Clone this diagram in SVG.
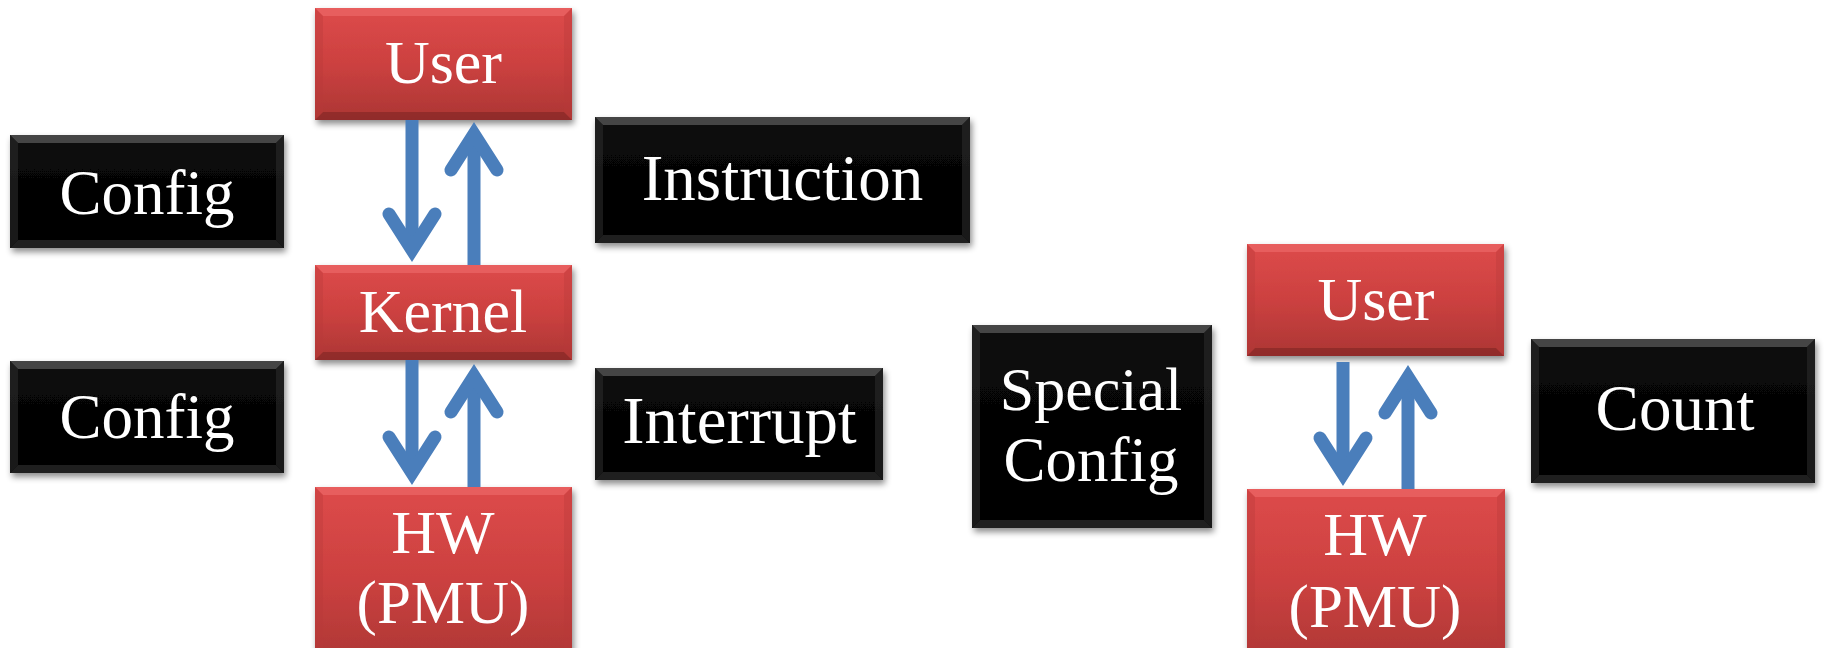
<svg xmlns="http://www.w3.org/2000/svg" width="1826" height="648" viewBox="0 0 1826 648">
<defs>
<linearGradient id="redG" x1="0" y1="0" x2="0" y2="1">
<stop offset="0" stop-color="#DD4A4A"/>
<stop offset="0.5" stop-color="#CC4140"/>
<stop offset="1" stop-color="#AC3634"/>
</linearGradient>
<linearGradient id="blkG" x1="0" y1="0" x2="0" y2="1">
<stop offset="0" stop-color="#0A0A0A"/>
<stop offset="1" stop-color="#000000"/>
</linearGradient>
<filter id="sh" x="-10%" y="-10%" width="125%" height="130%">
<feDropShadow dx="2" dy="4" stdDeviation="3" flood-color="#000" flood-opacity="0.45"/>
</filter>
</defs>
<style>
.red{fill:url(#redG);filter:url(#sh)}
.blk{fill:url(#blkG);filter:url(#sh)}
.red-t{fill:#F07070;opacity:0.55}
.red-b{fill:#7A2220;opacity:0.55}
.red-s{fill:#B83A38;opacity:0.35}
.blk-t{fill:#6A6A6A;opacity:0.6}
.blk-b{fill:#333;opacity:0.6}
.blk-s{fill:#2A2A2A;opacity:0.6}
text{font-family:"Liberation Serif","Times New Roman",serif;fill:#fff;text-anchor:middle}
.arr{stroke:#4A7EBB;stroke-width:13;fill:none;stroke-linecap:butt}
.head{stroke:#4A7EBB;stroke-width:13;fill:none;stroke-linecap:round;stroke-linejoin:miter;stroke-miterlimit:6}
</style>
<rect width="1826" height="648" fill="#fff"/>

<g id="user1">
<rect class="red" x="315" y="8" width="257" height="112"/>
<path class="red-t" d="M315,8 L572,8 L564,16 L323,16 Z"/>
<path class="red-b" d="M315,120 L572,120 L564,112 L323,112 Z"/>
<path class="red-s" d="M315,8 L323,16 L323,112 L315,120 Z M572,8 L564,16 L564,112 L572,120 Z"/>
<text x="443.5" y="83" font-size="62">User</text>
</g>

<g id="kernel">
<rect class="red" x="315" y="265" width="257" height="95"/>
<path class="red-t" d="M315,265 L572,265 L564,273 L323,273 Z"/>
<path class="red-b" d="M315,360 L572,360 L564,352 L323,352 Z"/>
<path class="red-s" d="M315,265 L323,273 L323,352 L315,360 Z M572,265 L564,273 L564,352 L572,360 Z"/>
<text x="443" y="332" font-size="62">Kernel</text>
</g>

<g id="hw1">
<rect class="red" x="315" y="487" width="257" height="180"/>
<path class="red-t" d="M315,487 L572,487 L564,495 L323,495 Z"/>
<path class="red-s" d="M315,487 L323,495 L323,667 L315,667 Z M572,487 L564,495 L564,667 L572,667 Z"/>
<text x="443" y="553" font-size="62">HW</text>
<text x="443" y="623" font-size="61">(PMU)</text>
</g>

<g id="config1">
<rect class="blk" x="10" y="135" width="274" height="113"/>
<path class="blk-t" d="M10,135 L284,135 L276,143 L18,143 Z"/>
<path class="blk-b" d="M10,248 L284,248 L276,240 L18,240 Z"/>
<path class="blk-s" d="M10,135 L18,143 L18,240 L10,248 Z M284,135 L276,143 L276,240 L284,248 Z"/>
<text x="147" y="214" font-size="63">Config</text>
</g>

<g id="config2">
<rect class="blk" x="10" y="361" width="274" height="112"/>
<path class="blk-t" d="M10,361 L284,361 L276,369 L18,369 Z"/>
<path class="blk-b" d="M10,473 L284,473 L276,465 L18,465 Z"/>
<path class="blk-s" d="M10,361 L18,369 L18,465 L10,473 Z M284,361 L276,369 L276,465 L284,473 Z"/>
<text x="147" y="438" font-size="63">Config</text>
</g>

<g id="instruction">
<rect class="blk" x="595" y="117" width="375" height="126"/>
<path class="blk-t" d="M595,117 L970,117 L962,125 L603,125 Z"/>
<path class="blk-b" d="M595,243 L970,243 L962,235 L603,235 Z"/>
<path class="blk-s" d="M595,117 L603,125 L603,235 L595,243 Z M970,117 L962,125 L962,235 L970,243 Z"/>
<text x="782.5" y="200" font-size="65">Instruction</text>
</g>

<g id="interrupt">
<rect class="blk" x="595" y="368" width="288" height="112"/>
<path class="blk-t" d="M595,368 L883,368 L875,376 L603,376 Z"/>
<path class="blk-b" d="M595,480 L883,480 L875,472 L603,472 Z"/>
<path class="blk-s" d="M595,368 L603,376 L603,472 L595,480 Z M883,368 L875,376 L875,472 L883,480 Z"/>
<text x="739.5" y="443" font-size="67">Interrupt</text>
</g>

<g id="special">
<rect class="blk" x="972" y="325" width="240" height="203"/>
<path class="blk-t" d="M972,325 L1212,325 L1204,333 L980,333 Z"/>
<path class="blk-b" d="M972,528 L1212,528 L1204,520 L980,520 Z"/>
<path class="blk-s" d="M972,325 L980,333 L980,520 L972,528 Z M1212,325 L1204,333 L1204,520 L1212,528 Z"/>
<text x="1091" y="410" font-size="62">Special</text>
<text x="1091" y="481" font-size="63">Config</text>
</g>

<g id="user2">
<rect class="red" x="1247" y="244" width="257" height="112"/>
<path class="red-t" d="M1247,244 L1504,244 L1496,252 L1255,252 Z"/>
<path class="red-b" d="M1247,356 L1504,356 L1496,348 L1255,348 Z"/>
<path class="red-s" d="M1247,244 L1255,252 L1255,348 L1247,356 Z M1504,244 L1496,252 L1496,348 L1504,356 Z"/>
<text x="1376" y="320" font-size="62">User</text>
</g>

<g id="hw2">
<rect class="red" x="1247" y="489" width="258" height="180"/>
<path class="red-t" d="M1247,489 L1505,489 L1497,497 L1255,497 Z"/>
<path class="red-s" d="M1247,489 L1255,497 L1255,669 L1247,669 Z M1505,489 L1497,497 L1497,669 L1505,669 Z"/>
<text x="1375" y="555" font-size="62">HW</text>
<text x="1375" y="627" font-size="61">(PMU)</text>
</g>

<g id="count">
<rect class="blk" x="1531" y="339" width="284" height="144"/>
<path class="blk-t" d="M1531,339 L1815,339 L1807,347 L1539,347 Z"/>
<path class="blk-b" d="M1531,483 L1815,483 L1807,475 L1539,475 Z"/>
<path class="blk-s" d="M1531,339 L1539,347 L1539,475 L1531,483 Z M1815,339 L1807,347 L1807,475 L1815,483 Z"/>
<text x="1675" y="430" font-size="65">Count</text>
</g>

<g id="connectors">
<!-- user1 -> kernel -->
<line class="arr" x1="412" y1="120" x2="412" y2="250"/>
<path class="head" d="M389,214 L412,250 L435,214"/>
<!-- kernel -> user1 -->
<line class="arr" x1="474" y1="134" x2="474" y2="265"/>
<path class="head" d="M451,170 L474,134 L497,170"/>
<!-- kernel -> hw1 -->
<line class="arr" x1="412" y1="360" x2="412" y2="473"/>
<path class="head" d="M389,437 L412,473 L435,437"/>
<!-- hw1 -> kernel -->
<line class="arr" x1="474" y1="376" x2="474" y2="487"/>
<path class="head" d="M451,412 L474,376 L497,412"/>
<!-- user2 -> hw2 -->
<line class="arr" x1="1343" y1="362" x2="1343" y2="474"/>
<path class="head" d="M1320,438 L1343,474 L1366,438"/>
<!-- hw2 -> user2 -->
<line class="arr" x1="1408" y1="377" x2="1408" y2="489"/>
<path class="head" d="M1385,413 L1408,377 L1431,413"/>
</g>
</svg>
